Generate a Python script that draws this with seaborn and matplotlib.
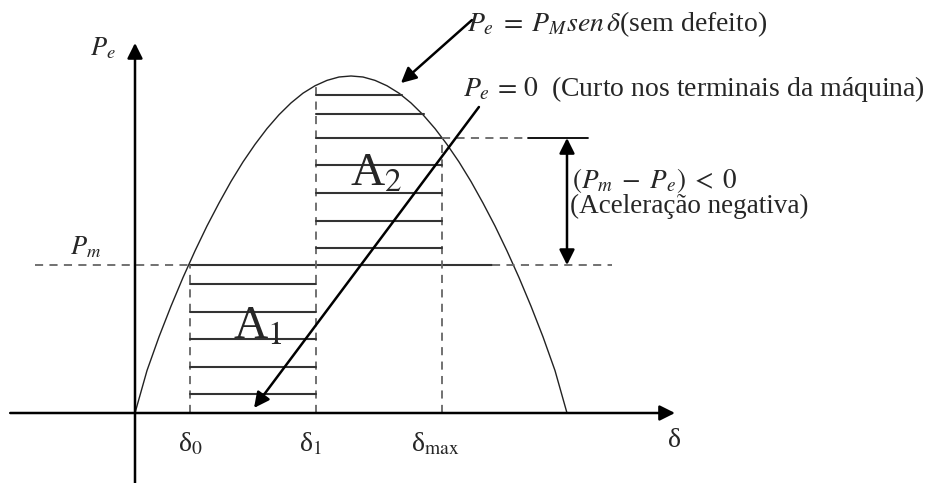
import matplotlib
matplotlib.use("Agg")
import matplotlib.pyplot as plt
import seaborn as sns
import pandas as pd

# ---- data (angles in degrees, power in pu of P_M) ----
delta_deg = [0, 5, 10, 15, 20, 25, 30, 35, 40, 45, 50, 55, 60, 65, 70, 75, 80, 85, 90,
             95, 100, 105, 110, 115, 120, 125, 130, 135, 140, 145, 150, 155, 160, 165, 170, 175, 180]
pe_curve = [0, 0.126, 0.226, 0.317, 0.402, 0.481, 0.555, 0.623, 0.687, 0.745, 0.797, 0.844,
            0.885, 0.920, 0.949, 0.971, 0.987, 0.997, 1.0, 0.997, 0.987, 0.971, 0.949, 0.920,
            0.885, 0.844, 0.797, 0.745, 0.687, 0.623, 0.555, 0.481, 0.402, 0.317, 0.226, 0.126, 0]

pm = 0.439
delta0 = 22.9
delta1 = 75.4
delta_max = 127.9
delta1_top = 0.972
pe_max_line = 0.816

a1_levels = [0.383, 0.300, 0.220, 0.136, 0.056]
a2_levels = [0.944, 0.887, 0.816, 0.736, 0.653, 0.570, 0.490]
a2_right = [111.1, 120.4, 127.9, 127.9, 127.9, 127.9, 127.9]

tick_labels = [r"δ$_{0}$", r"δ$_{1}$", r"δ$_{\mathrm{max}}$"]

# ---- style ----
sns.set_theme(style="white")
plt.rcParams["font.family"] = ["Liberation Serif", "DejaVu Serif"]
plt.rcParams["mathtext.fontset"] = "stix"

fig = plt.figure(figsize=(9.28, 4.83), dpi=100)
ax = fig.add_axes([0, 0, 1, 1])
ax.set_xlim(-56.25, 330.42)
ax.set_ylim(-0.2077, 1.2255)
ax.axis("off")

df = pd.DataFrame({"delta": delta_deg, "pe": pe_curve})
sns.lineplot(data=df, x="delta", y="pe", ax=ax, color="#222222", lw=1.0, sort=False)

dash_kw = dict(color="#666666", lw=1.3, linestyle=(0, (4.5, 3.5)))
hatch_kw = dict(color="#333333", lw=1.5)

# axes with arrows
arrow_kw = dict(arrowstyle="-|>", mutation_scale=23, lw=1.8, color="black",
                shrinkA=0, shrinkB=0)
ax.annotate("", xy=(225, 0), xytext=(-52, 0), arrowprops=arrow_kw)
ax.annotate("", xy=(0, 1.098), xytext=(0, -0.207), arrowprops=arrow_kw)

# Pm line
ax.plot([-41.7, delta0], [pm, pm], **dash_kw)
ax.plot([delta0, 148.75], [pm, pm], **hatch_kw)
ax.plot([148.75, 198.75], [pm, pm], **dash_kw)

# vertical dashed lines
ax.plot([delta0, delta0], [0, pm], **dash_kw)
ax.plot([delta1, delta1], [0, delta1_top], **dash_kw)
ax.plot([delta_max, delta_max], [0, pe_max_line], **dash_kw)

# hatching A1
for lv in a1_levels:
    ax.plot([delta0, delta1], [lv, lv], **hatch_kw)
# hatching A2
for lv, r in zip(a2_levels, a2_right):
    ax.plot([delta1, r], [lv, lv], **hatch_kw)

# extension of the max line
ax.plot([delta_max, 163.75], [pe_max_line, pe_max_line], **dash_kw)
ax.plot([163.75, 188.75], [pe_max_line, pe_max_line], color="black", lw=1.3)

# double arrow
dbl = dict(arrowstyle="<|-|>", mutation_scale=23, lw=1.8, color="black",
           shrinkA=0, shrinkB=0)
ax.annotate("", xy=(180, pe_max_line), xytext=(180, pm), arrowprops=dbl)

# pointer arrows
ax.annotate("", xy=(110.8, 0.979), xytext=(140.4, 1.166), arrowprops=arrow_kw)
ax.annotate("", xy=(49.6, 0.015), xytext=(143.3, 0.908), arrowprops=arrow_kw)

# texts
fs = 20
ax.text(-13.3, 1.083, r"$P_e$", fontsize=19, ha="center", va="center")
ax.text(-20.4, 0.493, r"$P_m$", fontsize=19, ha="center", va="center")
ax.text(138.3, 1.134, r"$P_e\;=\;P_M sen\,\delta$(sem defeito)", fontsize=fs,
        ha="left", va="baseline")
ax.text(136.7, 0.941, r"$P_e\,=\,\mathit{0}$  (Curto nos terminais da máquina)", fontsize=fs,
        ha="left", va="baseline")
ax.text(182.1, 0.668, r"$\mathit{(}P_m\;-\;P_e\mathit{)}\;<\;\mathit{0}$", fontsize=19.5,
        ha="left", va="baseline")
ax.text(181.25, 0.593, "(Aceleração negativa)", fontsize=19.5, ha="left", va="baseline")

ax.text(40.8, 0.2196, r"A$_{1}$", fontsize=34, ha="left", va="baseline")
ax.text(89.6, 0.674, r"A$_{2}$", fontsize=34, ha="left", va="baseline")

for x, lab in zip([23.3, 73.3, 125.2], tick_labels):
    ax.text(x, -0.092, lab, fontsize=20, ha="center", va="center")
ax.text(225, -0.083, "δ", fontsize=20, ha="center", va="center")

fig.savefig("out.png", dpi=100)
